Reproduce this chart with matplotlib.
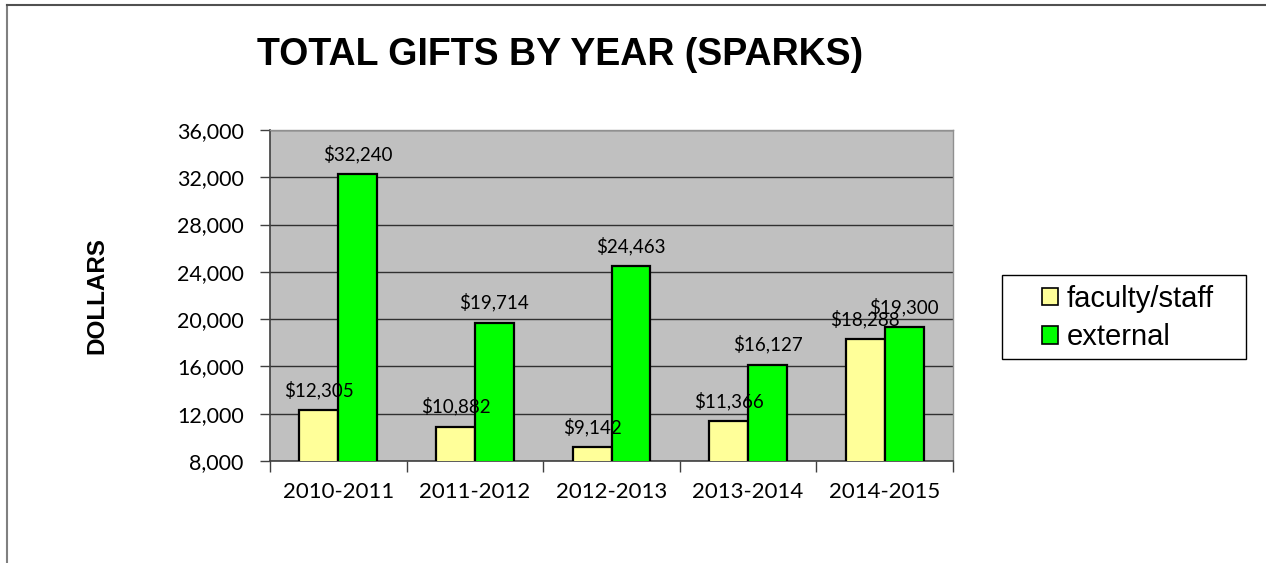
import matplotlib
matplotlib.use("Agg")
import matplotlib.pyplot as plt
import numpy as np
from matplotlib.lines import Line2D
from matplotlib.patches import Patch, Rectangle

categories = ["2010-2011", "2011-2012", "2012-2013", "2013-2014", "2014-2015"]
faculty_staff = [12305, 10882, 9142, 11366, 18288]
external = [32240, 19714, 24463, 16127, 19300]
yticks = [8000, 12000, 16000, 20000, 24000, 28000, 32000, 36000]

W, H = 1266, 563
fig = plt.figure(figsize=(W / 100, H / 100), dpi=100)
ax = fig.add_axes([270 / W, 1 - 461 / H, (953 - 270) / W, (461 - 130) / H])
ax.set_facecolor("#C0C0C0")

x = np.arange(len(categories))
bw = 0.285
b1 = ax.bar(x - bw / 2, faculty_staff, bw, color="#FFFF99", edgecolor="black", linewidth=1.6, zorder=3, label="faculty/staff")
b2 = ax.bar(x + bw / 2, external, bw, color="#00FF00", edgecolor="black", linewidth=1.6, zorder=3, label="external")

ax.set_xlim(-0.5, len(categories) - 0.5)
ax.set_ylim(8000, 36000)
ax.set_yticks(yticks)
ax.set_yticklabels([f"{v:,}" for v in yticks], fontfamily="Lato", fontsize=15.5)
ax.set_xticks(x)
ax.set_xticklabels(categories, fontfamily="Lato", fontsize=16)
ax.tick_params(axis="x", length=0, pad=15)
ax.set_xticks(np.arange(-0.5, len(categories)), minor=True)
ax.tick_params(axis="x", which="minor", length=8, width=1, color="#404040", direction="out")
ax.tick_params(axis="y", length=7, width=1, color="#404040", direction="out", pad=12)
ax.grid(axis="y", color="#303030", linewidth=1.0, zorder=0)
ax.set_axisbelow(True)
for s in ["left", "bottom"]:
    ax.spines[s].set_color("#404040")
    ax.spines[s].set_linewidth(1.2)
for s in ["top", "right"]:
    ax.spines[s].set_color("#909090")
    ax.spines[s].set_linewidth(1.0)

for bars, vals in ((b1, faculty_staff), (b2, external)):
    for rect, v in zip(bars, vals):
        ax.annotate(f"${v:,}", (rect.get_x() + rect.get_width() / 2, v), xytext=(0, 8),
                    textcoords="offset points", ha="center", va="bottom",
                    fontfamily="Lato", fontsize=13.5, zorder=5)

fig.text(560 / W, 1 - 55 / H, "TOTAL GIFTS BY YEAR (SPARKS)", ha="center", va="center",
         fontfamily="Liberation Sans", fontweight="bold", fontsize=27)
fig.text(97 / W, 1 - 296 / H, "DOLLARS", ha="center", va="center", rotation=90,
         fontfamily="Liberation Sans", fontweight="bold", fontsize=17.5)

# legend box
fig.add_artist(Rectangle((1002 / W, 1 - 359 / H), (1246 - 1002) / W, (359 - 275) / H,
                         transform=fig.transFigure, facecolor="white", edgecolor="black",
                         linewidth=1.0, zorder=1))
handles = [Patch(facecolor="#FFFF99", edgecolor="black", linewidth=1.2),
           Patch(facecolor="#00FF00", edgecolor="black", linewidth=1.2)]
leg = fig.legend(handles, ["faculty/staff", "external"], loc="center left",
                 bbox_to_anchor=(1042 / W, 1 - 318 / H), frameon=False,
                 prop={"family": "Liberation Sans", "size": 21}, handlelength=0.55,
                 handleheight=0.55, handletextpad=0.3, borderpad=0, labelspacing=0.35,
                 borderaxespad=0)
leg.set_zorder(2)

fig.add_artist(Line2D([6.5 / W, 6.5 / W], [0, 1 - 4.5 / H], color="#808080", linewidth=1.5, transform=fig.transFigure))
fig.add_artist(Line2D([6.5 / W, 1], [1 - 4.5 / H, 1 - 4.5 / H], color="#505050", linewidth=1.5, transform=fig.transFigure))

fig.savefig("out.png", dpi=100)
